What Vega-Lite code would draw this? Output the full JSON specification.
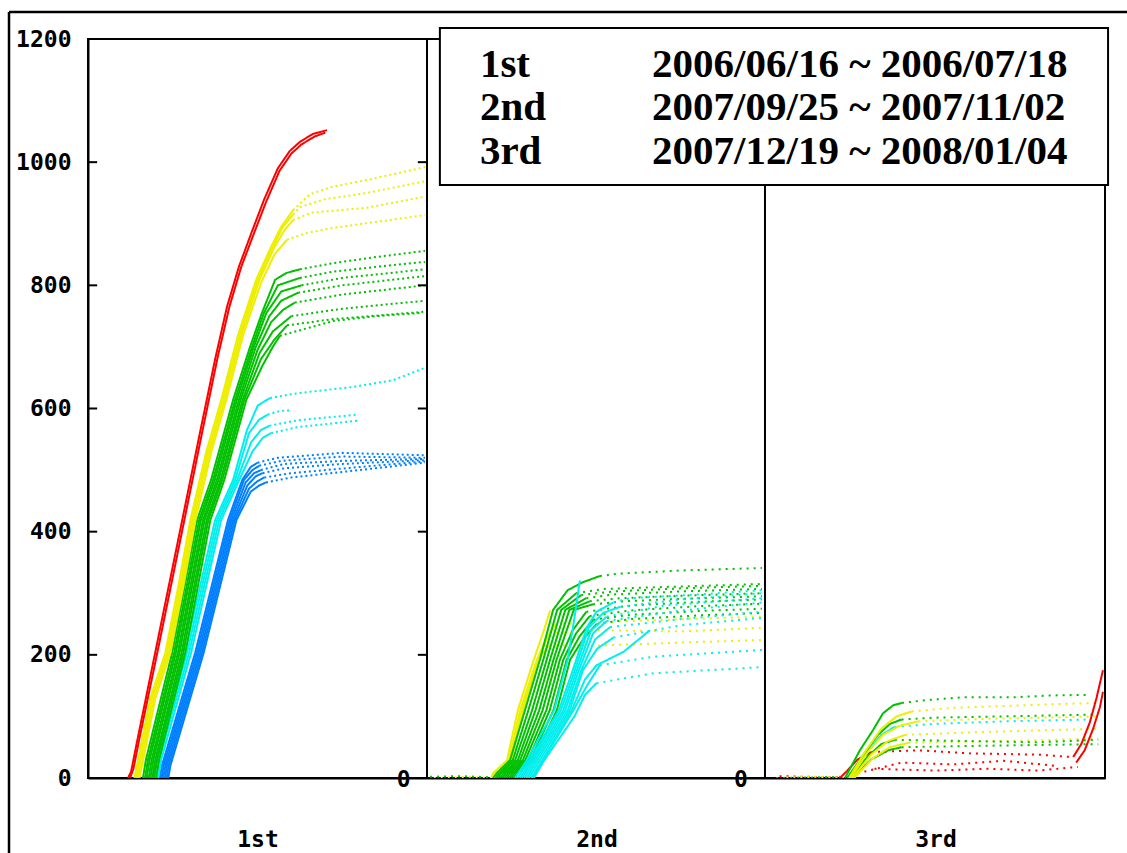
{
"$schema": "https://vega.github.io/schema/vega-lite/v6.json",
"width": 1017, "height": 739,
"autosize": {"type": "none"},
"padding": {"left": 88, "top": 39, "right": 22, "bottom": 75},
"background": "white",
"config": {"view": {"stroke": "#000", "strokeWidth": 2},
"axis": {"grid": false, "title": null, "labelFont": "DejaVu Sans Mono", "labelFontWeight": "bold", "labelFontSize": 23, "labelColor": "#000", "domainColor": "#000", "domainWidth": 2, "ticks": false},
"axisX": {"labelPadding": 50},
"axisY": {"labelPadding": 17}},
"datasets": {
"curves": [
{"s":"b1","c":"blue","p":"rise","x":21.2,"y":0},{"s":"b1","c":"blue","p":"rise","x":21.8,"y":20},{"s":"b1","c":"blue","p":"rise","x":31.6,"y":203},{"s":"b1","c":"blue","p":"rise","x":41.3,"y":419},{"s":"b1","c":"blue","p":"rise","x":45.5,"y":484},{"s":"b1","c":"blue","p":"rise","x":48.0,"y":505},{"s":"b1","c":"blue","p":"rise","x":50.0,"y":512},
{"s":"b1","c":"blue","p":"flat","x":50.0,"y":512},{"s":"b1","c":"blue","p":"flat","x":56,"y":520},{"s":"b1","c":"blue","p":"flat","x":75,"y":528},{"s":"b1","c":"blue","p":"flat","x":99.4,"y":524},
{"s":"b2","c":"blue","p":"rise","x":21.7,"y":0},{"s":"b2","c":"blue","p":"rise","x":22.3,"y":20},{"s":"b2","c":"blue","p":"rise","x":32.1,"y":203},{"s":"b2","c":"blue","p":"rise","x":41.8,"y":419},{"s":"b2","c":"blue","p":"rise","x":46.0,"y":484},{"s":"b2","c":"blue","p":"rise","x":48.5,"y":500},{"s":"b2","c":"blue","p":"rise","x":50.5,"y":507},
{"s":"b2","c":"blue","p":"flat","x":50.5,"y":507},{"s":"b2","c":"blue","p":"flat","x":57,"y":515},{"s":"b2","c":"blue","p":"flat","x":75,"y":522},{"s":"b2","c":"blue","p":"flat","x":99.4,"y":520},
{"s":"b3","c":"blue","p":"rise","x":22.2,"y":0},{"s":"b3","c":"blue","p":"rise","x":22.8,"y":20},{"s":"b3","c":"blue","p":"rise","x":32.6,"y":203},{"s":"b3","c":"blue","p":"rise","x":42.3,"y":419},{"s":"b3","c":"blue","p":"rise","x":46.5,"y":480},{"s":"b3","c":"blue","p":"rise","x":49.0,"y":495},{"s":"b3","c":"blue","p":"rise","x":51.0,"y":500},
{"s":"b3","c":"blue","p":"flat","x":51.0,"y":500},{"s":"b3","c":"blue","p":"flat","x":58,"y":510},{"s":"b3","c":"blue","p":"flat","x":75,"y":515},{"s":"b3","c":"blue","p":"flat","x":99.4,"y":518},
{"s":"b4","c":"blue","p":"rise","x":22.7,"y":0},{"s":"b4","c":"blue","p":"rise","x":23.3,"y":20},{"s":"b4","c":"blue","p":"rise","x":33.1,"y":203},{"s":"b4","c":"blue","p":"rise","x":42.8,"y":419},{"s":"b4","c":"blue","p":"rise","x":47.0,"y":475},{"s":"b4","c":"blue","p":"rise","x":49.5,"y":490},{"s":"b4","c":"blue","p":"rise","x":51.5,"y":495},
{"s":"b4","c":"blue","p":"flat","x":51.5,"y":495},{"s":"b4","c":"blue","p":"flat","x":58,"y":503},{"s":"b4","c":"blue","p":"flat","x":75,"y":510},{"s":"b4","c":"blue","p":"flat","x":99.4,"y":516},
{"s":"b5","c":"blue","p":"rise","x":23.2,"y":0},{"s":"b5","c":"blue","p":"rise","x":23.8,"y":20},{"s":"b5","c":"blue","p":"rise","x":33.6,"y":203},{"s":"b5","c":"blue","p":"rise","x":43.3,"y":419},{"s":"b5","c":"blue","p":"rise","x":47.5,"y":470},{"s":"b5","c":"blue","p":"rise","x":50.0,"y":482},{"s":"b5","c":"blue","p":"rise","x":52.0,"y":488},
{"s":"b5","c":"blue","p":"flat","x":52.0,"y":488},{"s":"b5","c":"blue","p":"flat","x":60,"y":495},{"s":"b5","c":"blue","p":"flat","x":80,"y":505},{"s":"b5","c":"blue","p":"flat","x":99.4,"y":514},
{"s":"b6","c":"blue","p":"rise","x":23.7,"y":0},{"s":"b6","c":"blue","p":"rise","x":24.3,"y":20},{"s":"b6","c":"blue","p":"rise","x":34.1,"y":203},{"s":"b6","c":"blue","p":"rise","x":43.8,"y":419},{"s":"b6","c":"blue","p":"rise","x":48.0,"y":465},{"s":"b6","c":"blue","p":"rise","x":50.5,"y":475},{"s":"b6","c":"blue","p":"rise","x":52.5,"y":480},
{"s":"b6","c":"blue","p":"flat","x":52.5,"y":480},{"s":"b6","c":"blue","p":"flat","x":60,"y":488},{"s":"b6","c":"blue","p":"flat","x":80,"y":500},{"s":"b6","c":"blue","p":"flat","x":99.4,"y":512},

{"s":"c1","c":"cyan","p":"rise","x":18.9,"y":0},{"s":"c1","c":"cyan","p":"rise","x":19.8,"y":30},{"s":"c1","c":"cyan","p":"rise","x":28.6,"y":203},{"s":"c1","c":"cyan","p":"rise","x":37.5,"y":419},{"s":"c1","c":"cyan","p":"rise","x":42.8,"y":484},{"s":"c1","c":"cyan","p":"rise","x":46.9,"y":565},{"s":"c1","c":"cyan","p":"rise","x":50.1,"y":605},{"s":"c1","c":"cyan","p":"rise","x":53.7,"y":617},
{"s":"c1","c":"cyan","p":"flat","x":53.7,"y":617},{"s":"c1","c":"cyan","p":"flat","x":62,"y":625},{"s":"c1","c":"cyan","p":"flat","x":78.2,"y":635},{"s":"c1","c":"cyan","p":"flat","x":90,"y":646},{"s":"c1","c":"cyan","p":"flat","x":99.4,"y":666},
{"s":"c2","c":"cyan","p":"rise","x":19.5,"y":0},{"s":"c2","c":"cyan","p":"rise","x":20.4,"y":30},{"s":"c2","c":"cyan","p":"rise","x":29.2,"y":203},{"s":"c2","c":"cyan","p":"rise","x":38.1,"y":419},{"s":"c2","c":"cyan","p":"rise","x":43.4,"y":484},{"s":"c2","c":"cyan","p":"rise","x":47.5,"y":560},{"s":"c2","c":"cyan","p":"rise","x":50.5,"y":582},{"s":"c2","c":"cyan","p":"rise","x":53.0,"y":590},
{"s":"c2","c":"cyan","p":"flat","x":53.0,"y":590},{"s":"c2","c":"cyan","p":"flat","x":56.5,"y":596},{"s":"c2","c":"cyan","p":"flat","x":60.2,"y":597},
{"s":"c3","c":"cyan","p":"rise","x":20.1,"y":0},{"s":"c3","c":"cyan","p":"rise","x":21.0,"y":30},{"s":"c3","c":"cyan","p":"rise","x":29.8,"y":203},{"s":"c3","c":"cyan","p":"rise","x":38.7,"y":419},{"s":"c3","c":"cyan","p":"rise","x":44.0,"y":484},{"s":"c3","c":"cyan","p":"rise","x":48.1,"y":545},{"s":"c3","c":"cyan","p":"rise","x":51.0,"y":565},{"s":"c3","c":"cyan","p":"rise","x":53.5,"y":572},
{"s":"c3","c":"cyan","p":"flat","x":53.5,"y":572},{"s":"c3","c":"cyan","p":"flat","x":62,"y":581},{"s":"c3","c":"cyan","p":"flat","x":79.4,"y":590},
{"s":"c4","c":"cyan","p":"rise","x":20.7,"y":0},{"s":"c4","c":"cyan","p":"rise","x":21.6,"y":30},{"s":"c4","c":"cyan","p":"rise","x":30.4,"y":203},{"s":"c4","c":"cyan","p":"rise","x":39.3,"y":419},{"s":"c4","c":"cyan","p":"rise","x":44.6,"y":484},{"s":"c4","c":"cyan","p":"rise","x":48.5,"y":530},{"s":"c4","c":"cyan","p":"rise","x":51.5,"y":552},{"s":"c4","c":"cyan","p":"rise","x":54.0,"y":560},
{"s":"c4","c":"cyan","p":"flat","x":54.0,"y":560},{"s":"c4","c":"cyan","p":"flat","x":62,"y":570},{"s":"c4","c":"cyan","p":"flat","x":79.4,"y":580},

{"s":"g1","c":"green","p":"rise","x":16.2,"y":0},{"s":"g1","c":"green","p":"rise","x":17.1,"y":30},{"s":"g1","c":"green","p":"rise","x":24.8,"y":203},{"s":"g1","c":"green","p":"rise","x":32.2,"y":419},{"s":"g1","c":"green","p":"rise","x":36.3,"y":484},{"s":"g1","c":"green","p":"rise","x":42.8,"y":614},{"s":"g1","c":"green","p":"rise","x":47.8,"y":700},{"s":"g1","c":"green","p":"rise","x":51.3,"y":755},{"s":"g1","c":"green","p":"rise","x":55.2,"y":809},{"s":"g1","c":"green","p":"rise","x":58.5,"y":820},{"s":"g1","c":"green","p":"rise","x":62.5,"y":826},
{"s":"g1","c":"green","p":"flat","x":62.5,"y":826},{"s":"g1","c":"green","p":"flat","x":72.3,"y":836},{"s":"g1","c":"green","p":"flat","x":85,"y":846},{"s":"g1","c":"green","p":"flat","x":99.4,"y":856},
{"s":"g2","c":"green","p":"rise","x":16.8,"y":0},{"s":"g2","c":"green","p":"rise","x":17.7,"y":30},{"s":"g2","c":"green","p":"rise","x":25.4,"y":203},{"s":"g2","c":"green","p":"rise","x":32.8,"y":419},{"s":"g2","c":"green","p":"rise","x":36.9,"y":484},{"s":"g2","c":"green","p":"rise","x":43.4,"y":614},{"s":"g2","c":"green","p":"rise","x":48.4,"y":700},{"s":"g2","c":"green","p":"rise","x":51.9,"y":755},{"s":"g2","c":"green","p":"rise","x":56.0,"y":800},{"s":"g2","c":"green","p":"rise","x":62.5,"y":812},
{"s":"g2","c":"green","p":"flat","x":62.5,"y":812},{"s":"g2","c":"green","p":"flat","x":72,"y":822},{"s":"g2","c":"green","p":"flat","x":85,"y":830},{"s":"g2","c":"green","p":"flat","x":99.4,"y":838},
{"s":"g3","c":"green","p":"rise","x":17.3,"y":0},{"s":"g3","c":"green","p":"rise","x":18.2,"y":30},{"s":"g3","c":"green","p":"rise","x":25.9,"y":203},{"s":"g3","c":"green","p":"rise","x":33.3,"y":419},{"s":"g3","c":"green","p":"rise","x":37.4,"y":484},{"s":"g3","c":"green","p":"rise","x":43.9,"y":614},{"s":"g3","c":"green","p":"rise","x":48.9,"y":700},{"s":"g3","c":"green","p":"rise","x":52.6,"y":755},{"s":"g3","c":"green","p":"rise","x":57.0,"y":790},{"s":"g3","c":"green","p":"rise","x":63.0,"y":800},
{"s":"g3","c":"green","p":"flat","x":63.0,"y":800},{"s":"g3","c":"green","p":"flat","x":75,"y":812},{"s":"g3","c":"green","p":"flat","x":99.4,"y":826},
{"s":"g4","c":"green","p":"rise","x":17.9,"y":0},{"s":"g4","c":"green","p":"rise","x":18.8,"y":30},{"s":"g4","c":"green","p":"rise","x":26.5,"y":203},{"s":"g4","c":"green","p":"rise","x":33.9,"y":419},{"s":"g4","c":"green","p":"rise","x":38.0,"y":484},{"s":"g4","c":"green","p":"rise","x":44.5,"y":614},{"s":"g4","c":"green","p":"rise","x":49.5,"y":700},{"s":"g4","c":"green","p":"rise","x":53.5,"y":750},{"s":"g4","c":"green","p":"rise","x":57.0,"y":775},{"s":"g4","c":"green","p":"rise","x":62.0,"y":788},
{"s":"g4","c":"green","p":"flat","x":62.0,"y":788},{"s":"g4","c":"green","p":"flat","x":75,"y":800},{"s":"g4","c":"green","p":"flat","x":99.4,"y":815},
{"s":"g5","c":"green","p":"rise","x":18.4,"y":0},{"s":"g5","c":"green","p":"rise","x":19.3,"y":30},{"s":"g5","c":"green","p":"rise","x":27.0,"y":203},{"s":"g5","c":"green","p":"rise","x":34.4,"y":419},{"s":"g5","c":"green","p":"rise","x":38.5,"y":484},{"s":"g5","c":"green","p":"rise","x":45.0,"y":614},{"s":"g5","c":"green","p":"rise","x":50.0,"y":695},{"s":"g5","c":"green","p":"rise","x":54.0,"y":740},{"s":"g5","c":"green","p":"rise","x":57.5,"y":760},{"s":"g5","c":"green","p":"rise","x":61.0,"y":772},
{"s":"g5","c":"green","p":"flat","x":61.0,"y":772},{"s":"g5","c":"green","p":"flat","x":75,"y":785},{"s":"g5","c":"green","p":"flat","x":99.4,"y":800},
{"s":"g6","c":"green","p":"rise","x":19.0,"y":0},{"s":"g6","c":"green","p":"rise","x":19.9,"y":30},{"s":"g6","c":"green","p":"rise","x":27.6,"y":203},{"s":"g6","c":"green","p":"rise","x":35.0,"y":419},{"s":"g6","c":"green","p":"rise","x":39.1,"y":484},{"s":"g6","c":"green","p":"rise","x":45.6,"y":614},{"s":"g6","c":"green","p":"rise","x":50.6,"y":690},{"s":"g6","c":"green","p":"rise","x":54.5,"y":725},{"s":"g6","c":"green","p":"rise","x":60.0,"y":750},
{"s":"g6","c":"green","p":"flat","x":60.0,"y":750},{"s":"g6","c":"green","p":"flat","x":75,"y":762},{"s":"g6","c":"green","p":"flat","x":99.4,"y":775},
{"s":"g7","c":"green","p":"rise","x":19.5,"y":0},{"s":"g7","c":"green","p":"rise","x":20.4,"y":30},{"s":"g7","c":"green","p":"rise","x":28.1,"y":203},{"s":"g7","c":"green","p":"rise","x":35.5,"y":419},{"s":"g7","c":"green","p":"rise","x":39.6,"y":484},{"s":"g7","c":"green","p":"rise","x":46.1,"y":614},{"s":"g7","c":"green","p":"rise","x":51.0,"y":680},{"s":"g7","c":"green","p":"rise","x":55.0,"y":712},{"s":"g7","c":"green","p":"rise","x":58.7,"y":735},
{"s":"g7","c":"green","p":"flat","x":58.7,"y":735},{"s":"g7","c":"green","p":"flat","x":72,"y":745},{"s":"g7","c":"green","p":"flat","x":99.0,"y":757},
{"s":"g8","c":"green","p":"rise","x":20.1,"y":0},{"s":"g8","c":"green","p":"rise","x":21.0,"y":30},{"s":"g8","c":"green","p":"rise","x":28.7,"y":203},{"s":"g8","c":"green","p":"rise","x":36.1,"y":419},{"s":"g8","c":"green","p":"rise","x":40.2,"y":484},{"s":"g8","c":"green","p":"rise","x":46.7,"y":614},{"s":"g8","c":"green","p":"rise","x":51.5,"y":670},{"s":"g8","c":"green","p":"rise","x":54.5,"y":700},{"s":"g8","c":"green","p":"rise","x":56.6,"y":718},
{"s":"g8","c":"green","p":"flat","x":56.6,"y":718},{"s":"g8","c":"green","p":"flat","x":72.3,"y":742},{"s":"g8","c":"green","p":"flat","x":85,"y":750},{"s":"g8","c":"green","p":"flat","x":97.9,"y":755},

{"s":"y1","c":"yellow","p":"rise","x":13.7,"y":0},{"s":"y1","c":"yellow","p":"rise","x":14.8,"y":30},{"s":"y1","c":"yellow","p":"rise","x":18.4,"y":130},{"s":"y1","c":"yellow","p":"rise","x":22.8,"y":203},{"s":"y1","c":"yellow","p":"rise","x":26.6,"y":310},{"s":"y1","c":"yellow","p":"rise","x":30.2,"y":419},{"s":"y1","c":"yellow","p":"rise","x":34.9,"y":530},{"s":"y1","c":"yellow","p":"rise","x":39.3,"y":614},{"s":"y1","c":"yellow","p":"rise","x":44.3,"y":720},{"s":"y1","c":"yellow","p":"rise","x":49.6,"y":809},{"s":"y1","c":"yellow","p":"rise","x":53.8,"y":860},{"s":"y1","c":"yellow","p":"rise","x":57.0,"y":895},{"s":"y1","c":"yellow","p":"rise","x":60.5,"y":922},
{"s":"y1","c":"yellow","p":"flat","x":60.5,"y":922},{"s":"y1","c":"yellow","p":"flat","x":65.5,"y":948},{"s":"y1","c":"yellow","p":"flat","x":72,"y":960},{"s":"y1","c":"yellow","p":"flat","x":82.3,"y":971},{"s":"y1","c":"yellow","p":"flat","x":99.4,"y":992},
{"s":"y2","c":"yellow","p":"rise","x":14.2,"y":0},{"s":"y2","c":"yellow","p":"rise","x":15.3,"y":30},{"s":"y2","c":"yellow","p":"rise","x":18.9,"y":130},{"s":"y2","c":"yellow","p":"rise","x":23.3,"y":203},{"s":"y2","c":"yellow","p":"rise","x":27.1,"y":310},{"s":"y2","c":"yellow","p":"rise","x":30.7,"y":419},{"s":"y2","c":"yellow","p":"rise","x":35.4,"y":530},{"s":"y2","c":"yellow","p":"rise","x":39.8,"y":614},{"s":"y2","c":"yellow","p":"rise","x":44.8,"y":720},{"s":"y2","c":"yellow","p":"rise","x":50.1,"y":809},{"s":"y2","c":"yellow","p":"rise","x":54.3,"y":860},{"s":"y2","c":"yellow","p":"rise","x":57.5,"y":895},{"s":"y2","c":"yellow","p":"rise","x":60.5,"y":915},
{"s":"y2","c":"yellow","p":"flat","x":60.5,"y":915},{"s":"y2","c":"yellow","p":"flat","x":62.5,"y":927},{"s":"y2","c":"yellow","p":"flat","x":70,"y":940},{"s":"y2","c":"yellow","p":"flat","x":82.3,"y":950},{"s":"y2","c":"yellow","p":"flat","x":99.4,"y":969},
{"s":"y3","c":"yellow","p":"rise","x":14.7,"y":0},{"s":"y3","c":"yellow","p":"rise","x":15.8,"y":30},{"s":"y3","c":"yellow","p":"rise","x":19.4,"y":130},{"s":"y3","c":"yellow","p":"rise","x":23.8,"y":203},{"s":"y3","c":"yellow","p":"rise","x":27.6,"y":310},{"s":"y3","c":"yellow","p":"rise","x":31.2,"y":419},{"s":"y3","c":"yellow","p":"rise","x":35.9,"y":530},{"s":"y3","c":"yellow","p":"rise","x":40.3,"y":614},{"s":"y3","c":"yellow","p":"rise","x":45.3,"y":720},{"s":"y3","c":"yellow","p":"rise","x":50.6,"y":809},{"s":"y3","c":"yellow","p":"rise","x":54.8,"y":860},{"s":"y3","c":"yellow","p":"rise","x":58.0,"y":890},{"s":"y3","c":"yellow","p":"rise","x":60.5,"y":906},
{"s":"y3","c":"yellow","p":"flat","x":60.5,"y":906},{"s":"y3","c":"yellow","p":"flat","x":66,"y":918},{"s":"y3","c":"yellow","p":"flat","x":82.3,"y":926},{"s":"y3","c":"yellow","p":"flat","x":99.4,"y":944},
{"s":"y4","c":"yellow","p":"rise","x":15.2,"y":0},{"s":"y4","c":"yellow","p":"rise","x":16.3,"y":30},{"s":"y4","c":"yellow","p":"rise","x":19.9,"y":130},{"s":"y4","c":"yellow","p":"rise","x":24.3,"y":203},{"s":"y4","c":"yellow","p":"rise","x":28.1,"y":310},{"s":"y4","c":"yellow","p":"rise","x":31.7,"y":419},{"s":"y4","c":"yellow","p":"rise","x":36.4,"y":530},{"s":"y4","c":"yellow","p":"rise","x":40.8,"y":614},{"s":"y4","c":"yellow","p":"rise","x":45.8,"y":720},{"s":"y4","c":"yellow","p":"rise","x":51.1,"y":805},{"s":"y4","c":"yellow","p":"rise","x":55.0,"y":850},{"s":"y4","c":"yellow","p":"rise","x":58.7,"y":874},
{"s":"y4","c":"yellow","p":"flat","x":58.7,"y":874},{"s":"y4","c":"yellow","p":"flat","x":64.6,"y":885},{"s":"y4","c":"yellow","p":"flat","x":72,"y":893},{"s":"y4","c":"yellow","p":"flat","x":82.3,"y":901},{"s":"y4","c":"yellow","p":"flat","x":99.4,"y":914},

{"s":"r1","c":"red","p":"rise","x":11.8,"y":0},{"s":"r1","c":"red","p":"rise","x":12.7,"y":10},{"s":"r1","c":"red","p":"rise","x":14.5,"y":60},{"s":"r1","c":"red","p":"rise","x":19.8,"y":203},{"s":"r1","c":"red","p":"rise","x":27.1,"y":400},{"s":"r1","c":"red","p":"rise","x":33.0,"y":560},{"s":"r1","c":"red","p":"rise","x":37.5,"y":680},{"s":"r1","c":"red","p":"rise","x":41.0,"y":765},{"s":"r1","c":"red","p":"rise","x":44.5,"y":830},{"s":"r1","c":"red","p":"rise","x":48.4,"y":888},{"s":"r1","c":"red","p":"rise","x":52.0,"y":940},{"s":"r1","c":"red","p":"rise","x":56.0,"y":990},{"s":"r1","c":"red","p":"rise","x":59.5,"y":1018},{"s":"r1","c":"red","p":"rise","x":62.5,"y":1033},{"s":"r1","c":"red","p":"rise","x":66.4,"y":1046},{"s":"r1","c":"red","p":"rise","x":70.5,"y":1052},
{"s":"r2","c":"red","p":"rise","x":12.4,"y":0},{"s":"r2","c":"red","p":"rise","x":13.4,"y":15},{"s":"r2","c":"red","p":"rise","x":15.2,"y":65},{"s":"r2","c":"red","p":"rise","x":20.5,"y":205},{"s":"r2","c":"red","p":"rise","x":27.8,"y":402},{"s":"r2","c":"red","p":"rise","x":33.7,"y":562},{"s":"r2","c":"red","p":"rise","x":38.2,"y":682},{"s":"r2","c":"red","p":"rise","x":41.7,"y":765},{"s":"r2","c":"red","p":"rise","x":45.2,"y":830},{"s":"r2","c":"red","p":"rise","x":49.0,"y":885},{"s":"r2","c":"red","p":"rise","x":52.5,"y":935},{"s":"r2","c":"red","p":"rise","x":56.5,"y":986},{"s":"r2","c":"red","p":"rise","x":60.0,"y":1014},{"s":"r2","c":"red","p":"rise","x":63.0,"y":1029},{"s":"r2","c":"red","p":"rise","x":67.0,"y":1042},{"s":"r2","c":"red","p":"rise","x":70.0,"y":1048},

{"s":"z2g","c":"green","p":"sparse","x":100.9,"y":2},{"s":"z2g","c":"green","p":"sparse","x":110,"y":3},{"s":"z2g","c":"green","p":"sparse","x":119.5,"y":1},
{"s":"z2y","c":"yellow","p":"sparse","x":102,"y":0},{"s":"z2y","c":"yellow","p":"sparse","x":112,"y":2},{"s":"z2y","c":"yellow","p":"sparse","x":120,"y":0},

{"s":"ya0","c":"yellow","p":"rise","x":119.0,"y":0},{"s":"ya0","c":"yellow","p":"rise","x":119.5,"y":8},{"s":"ya0","c":"yellow","p":"rise","x":123.6,"y":29},{"s":"ya0","c":"yellow","p":"rise","x":126.8,"y":110},{"s":"ya0","c":"yellow","p":"rise","x":131.5,"y":192},{"s":"ya0","c":"yellow","p":"rise","x":134.5,"y":240},{"s":"ya0","c":"yellow","p":"rise","x":136.3,"y":272},
{"s":"ya1","c":"yellow","p":"rise","x":119.6,"y":0},{"s":"ya1","c":"yellow","p":"rise","x":120.1,"y":8},{"s":"ya1","c":"yellow","p":"rise","x":124.1,"y":29},{"s":"ya1","c":"yellow","p":"rise","x":127.5,"y":110},{"s":"ya1","c":"yellow","p":"rise","x":132.4,"y":192},{"s":"ya1","c":"yellow","p":"rise","x":135,"y":225},{"s":"ya1","c":"yellow","p":"rise","x":138,"y":250},
{"s":"ya1","c":"yellow","p":"sparse","x":138,"y":250},{"s":"ya1","c":"yellow","p":"sparse","x":160,"y":255},{"s":"ya1","c":"yellow","p":"sparse","x":198.8,"y":262},
{"s":"ya2","c":"yellow","p":"rise","x":120.0,"y":0},{"s":"ya2","c":"yellow","p":"rise","x":120.6,"y":8},{"s":"ya2","c":"yellow","p":"rise","x":124.4,"y":29},{"s":"ya2","c":"yellow","p":"rise","x":128,"y":110},{"s":"ya2","c":"yellow","p":"rise","x":132.8,"y":192},{"s":"ya2","c":"yellow","p":"rise","x":134.5,"y":215},{"s":"ya2","c":"yellow","p":"rise","x":136,"y":235},
{"s":"ya2","c":"yellow","p":"sparse","x":136,"y":235},{"s":"ya2","c":"yellow","p":"sparse","x":150,"y":240},{"s":"ya2","c":"yellow","p":"sparse","x":175,"y":238},{"s":"ya2","c":"yellow","p":"sparse","x":198.8,"y":244},
{"s":"ya3","c":"yellow","p":"rise","x":120.3,"y":0},{"s":"ya3","c":"yellow","p":"rise","x":121,"y":8},{"s":"ya3","c":"yellow","p":"rise","x":124.8,"y":29},{"s":"ya3","c":"yellow","p":"rise","x":128.4,"y":110},{"s":"ya3","c":"yellow","p":"rise","x":133,"y":192},{"s":"ya3","c":"yellow","p":"rise","x":134.5,"y":205},{"s":"ya3","c":"yellow","p":"rise","x":136,"y":215},
{"s":"ya3","c":"yellow","p":"sparse","x":136,"y":215},{"s":"ya3","c":"yellow","p":"sparse","x":150,"y":215},{"s":"ya3","c":"yellow","p":"sparse","x":175,"y":220},{"s":"ya3","c":"yellow","p":"sparse","x":198.8,"y":224},

{"s":"gb0","c":"green","p":"rise","x":119.5,"y":0},{"s":"gb0","c":"green","p":"rise","x":120.6,"y":8},{"s":"gb0","c":"green","p":"rise","x":124.5,"y":29},{"s":"gb0","c":"green","p":"rise","x":128.9,"y":110},{"s":"gb0","c":"green","p":"rise","x":133.3,"y":192},{"s":"gb0","c":"green","p":"rise","x":137.2,"y":273},{"s":"gb0","c":"green","p":"rise","x":141.5,"y":305},{"s":"gb0","c":"green","p":"rise","x":146,"y":318},{"s":"gb0","c":"green","p":"rise","x":151,"y":328},
{"s":"gb0","c":"green","p":"sparse","x":151,"y":328},{"s":"gb0","c":"green","p":"sparse","x":157,"y":332},{"s":"gb0","c":"green","p":"sparse","x":175,"y":337},{"s":"gb0","c":"green","p":"sparse","x":198.8,"y":341},
{"s":"gb1","c":"green","p":"rise","x":120.2,"y":0},{"s":"gb1","c":"green","p":"rise","x":121.3,"y":8},{"s":"gb1","c":"green","p":"rise","x":125.3,"y":29},{"s":"gb1","c":"green","p":"rise","x":129.9,"y":110},{"s":"gb1","c":"green","p":"rise","x":134.3,"y":192},{"s":"gb1","c":"green","p":"rise","x":138.4,"y":273},{"s":"gb1","c":"green","p":"rise","x":144,"y":300},
{"s":"gb1","c":"green","p":"sparse","x":144,"y":300},{"s":"gb1","c":"green","p":"sparse","x":152,"y":307},{"s":"gb1","c":"green","p":"sparse","x":175,"y":311},{"s":"gb1","c":"green","p":"sparse","x":198.8,"y":315},
{"s":"gb2","c":"green","p":"rise","x":120.8,"y":0},{"s":"gb2","c":"green","p":"rise","x":121.9,"y":8},{"s":"gb2","c":"green","p":"rise","x":126.0,"y":29},{"s":"gb2","c":"green","p":"rise","x":131.0,"y":110},{"s":"gb2","c":"green","p":"rise","x":135.3,"y":192},{"s":"gb2","c":"green","p":"rise","x":139.6,"y":273},{"s":"gb2","c":"green","p":"rise","x":145.5,"y":297},
{"s":"gb2","c":"green","p":"sparse","x":145.5,"y":297},{"s":"gb2","c":"green","p":"sparse","x":155,"y":303},{"s":"gb2","c":"green","p":"sparse","x":175,"y":308},{"s":"gb2","c":"green","p":"sparse","x":198.8,"y":312},
{"s":"gb3","c":"green","p":"rise","x":121.5,"y":0},{"s":"gb3","c":"green","p":"rise","x":122.6,"y":8},{"s":"gb3","c":"green","p":"rise","x":126.8,"y":29},{"s":"gb3","c":"green","p":"rise","x":132.0,"y":110},{"s":"gb3","c":"green","p":"rise","x":136.3,"y":192},{"s":"gb3","c":"green","p":"rise","x":140.8,"y":273},{"s":"gb3","c":"green","p":"rise","x":147,"y":292},
{"s":"gb3","c":"green","p":"sparse","x":147,"y":292},{"s":"gb3","c":"green","p":"sparse","x":155,"y":298},{"s":"gb3","c":"green","p":"sparse","x":175,"y":303},{"s":"gb3","c":"green","p":"sparse","x":198.8,"y":307},
{"s":"gb4","c":"green","p":"rise","x":122.2,"y":0},{"s":"gb4","c":"green","p":"rise","x":123.2,"y":8},{"s":"gb4","c":"green","p":"rise","x":127.5,"y":29},{"s":"gb4","c":"green","p":"rise","x":133.1,"y":110},{"s":"gb4","c":"green","p":"rise","x":137.3,"y":192},{"s":"gb4","c":"green","p":"rise","x":142.0,"y":273},{"s":"gb4","c":"green","p":"rise","x":148,"y":287},
{"s":"gb4","c":"green","p":"sparse","x":148,"y":287},{"s":"gb4","c":"green","p":"sparse","x":157,"y":292},{"s":"gb4","c":"green","p":"sparse","x":175,"y":296},{"s":"gb4","c":"green","p":"sparse","x":198.8,"y":300},
{"s":"gb5","c":"green","p":"rise","x":122.8,"y":0},{"s":"gb5","c":"green","p":"rise","x":123.9,"y":8},{"s":"gb5","c":"green","p":"rise","x":128.3,"y":29},{"s":"gb5","c":"green","p":"rise","x":134.1,"y":110},{"s":"gb5","c":"green","p":"rise","x":138.2,"y":192},{"s":"gb5","c":"green","p":"rise","x":143.3,"y":273},{"s":"gb5","c":"green","p":"rise","x":149,"y":282},
{"s":"gb5","c":"green","p":"sparse","x":149,"y":282},{"s":"gb5","c":"green","p":"sparse","x":158,"y":287},{"s":"gb5","c":"green","p":"sparse","x":175,"y":291},{"s":"gb5","c":"green","p":"sparse","x":198.8,"y":295},
{"s":"gb6","c":"green","p":"rise","x":123.5,"y":0},{"s":"gb6","c":"green","p":"rise","x":124.5,"y":8},{"s":"gb6","c":"green","p":"rise","x":129.0,"y":29},{"s":"gb6","c":"green","p":"rise","x":135.2,"y":110},{"s":"gb6","c":"green","p":"rise","x":139.2,"y":192},{"s":"gb6","c":"green","p":"rise","x":143,"y":240},{"s":"gb6","c":"green","p":"rise","x":147,"y":270},
{"s":"gb6","c":"green","p":"sparse","x":147,"y":270},{"s":"gb6","c":"green","p":"sparse","x":160,"y":280},{"s":"gb6","c":"green","p":"sparse","x":180,"y":286},{"s":"gb6","c":"green","p":"sparse","x":198.8,"y":290},
{"s":"gb7","c":"green","p":"rise","x":124.2,"y":0},{"s":"gb7","c":"green","p":"rise","x":125.2,"y":8},{"s":"gb7","c":"green","p":"rise","x":129.8,"y":29},{"s":"gb7","c":"green","p":"rise","x":136.2,"y":110},{"s":"gb7","c":"green","p":"rise","x":140.2,"y":192},{"s":"gb7","c":"green","p":"rise","x":144,"y":235},{"s":"gb7","c":"green","p":"rise","x":148,"y":263},
{"s":"gb7","c":"green","p":"sparse","x":148,"y":263},{"s":"gb7","c":"green","p":"sparse","x":160,"y":272},{"s":"gb7","c":"green","p":"sparse","x":180,"y":279},{"s":"gb7","c":"green","p":"sparse","x":198.8,"y":283},
{"s":"gb8","c":"green","p":"rise","x":124.8,"y":0},{"s":"gb8","c":"green","p":"rise","x":125.8,"y":8},{"s":"gb8","c":"green","p":"rise","x":130.5,"y":29},{"s":"gb8","c":"green","p":"rise","x":137.3,"y":110},{"s":"gb8","c":"green","p":"rise","x":141.2,"y":192},{"s":"gb8","c":"green","p":"rise","x":145,"y":230},{"s":"gb8","c":"green","p":"rise","x":149,"y":257},
{"s":"gb8","c":"green","p":"sparse","x":149,"y":257},{"s":"gb8","c":"green","p":"sparse","x":160,"y":265},{"s":"gb8","c":"green","p":"sparse","x":180,"y":271},{"s":"gb8","c":"green","p":"sparse","x":198.8,"y":275},
{"s":"gb9","c":"green","p":"rise","x":125.5,"y":0},{"s":"gb9","c":"green","p":"rise","x":126.5,"y":8},{"s":"gb9","c":"green","p":"rise","x":131.3,"y":29},{"s":"gb9","c":"green","p":"rise","x":138.3,"y":110},{"s":"gb9","c":"green","p":"rise","x":142.2,"y":192},{"s":"gb9","c":"green","p":"rise","x":146,"y":225},{"s":"gb9","c":"green","p":"rise","x":150,"y":250},
{"s":"gb9","c":"green","p":"sparse","x":150,"y":250},{"s":"gb9","c":"green","p":"sparse","x":160,"y":258},{"s":"gb9","c":"green","p":"sparse","x":180,"y":264},{"s":"gb9","c":"green","p":"sparse","x":198.8,"y":268},

{"s":"cb0","c":"cyan","p":"rise","x":126,"y":0},{"s":"cb0","c":"cyan","p":"rise","x":129.5,"y":29},{"s":"cb0","c":"cyan","p":"rise","x":137.5,"y":110},{"s":"cb0","c":"cyan","p":"rise","x":141.5,"y":192},{"s":"cb0","c":"cyan","p":"rise","x":143.5,"y":260},{"s":"cb0","c":"cyan","p":"rise","x":145.1,"y":321},
{"s":"cb1","c":"cyan","p":"rise","x":126.7,"y":0},{"s":"cb1","c":"cyan","p":"rise","x":130.2,"y":29},{"s":"cb1","c":"cyan","p":"rise","x":138.9,"y":110},{"s":"cb1","c":"cyan","p":"rise","x":143,"y":175},{"s":"cb1","c":"cyan","p":"rise","x":147.2,"y":245},{"s":"cb1","c":"cyan","p":"rise","x":150,"y":270},{"s":"cb1","c":"cyan","p":"rise","x":155,"y":285},
{"s":"cb1","c":"cyan","p":"sparse","x":155,"y":285},{"s":"cb1","c":"cyan","p":"sparse","x":160,"y":292},{"s":"cb1","c":"cyan","p":"sparse","x":180,"y":298},{"s":"cb1","c":"cyan","p":"sparse","x":198.8,"y":305},
{"s":"cb2","c":"cyan","p":"rise","x":127.4,"y":0},{"s":"cb2","c":"cyan","p":"rise","x":130.8,"y":29},{"s":"cb2","c":"cyan","p":"rise","x":139.5,"y":110},{"s":"cb2","c":"cyan","p":"rise","x":143.6,"y":175},{"s":"cb2","c":"cyan","p":"rise","x":147.8,"y":245},{"s":"cb2","c":"cyan","p":"rise","x":152,"y":268},{"s":"cb2","c":"cyan","p":"rise","x":157,"y":278},
{"s":"cb2","c":"cyan","p":"sparse","x":157,"y":278},{"s":"cb2","c":"cyan","p":"sparse","x":175,"y":290},{"s":"cb2","c":"cyan","p":"sparse","x":198.8,"y":300},
{"s":"cb3","c":"cyan","p":"rise","x":128,"y":0},{"s":"cb3","c":"cyan","p":"rise","x":131.4,"y":29},{"s":"cb3","c":"cyan","p":"rise","x":140.2,"y":110},{"s":"cb3","c":"cyan","p":"rise","x":144.2,"y":175},{"s":"cb3","c":"cyan","p":"rise","x":148.4,"y":240},{"s":"cb3","c":"cyan","p":"rise","x":153,"y":262},
{"s":"cb3","c":"cyan","p":"sparse","x":153,"y":262},{"s":"cb3","c":"cyan","p":"sparse","x":170,"y":280},{"s":"cb3","c":"cyan","p":"sparse","x":198.8,"y":292},
{"s":"cb4","c":"cyan","p":"rise","x":128.7,"y":0},{"s":"cb4","c":"cyan","p":"rise","x":132,"y":29},{"s":"cb4","c":"cyan","p":"rise","x":140.8,"y":110},{"s":"cb4","c":"cyan","p":"rise","x":144.8,"y":175},{"s":"cb4","c":"cyan","p":"rise","x":149,"y":235},{"s":"cb4","c":"cyan","p":"rise","x":153,"y":255},
{"s":"cb4","c":"cyan","p":"sparse","x":153,"y":255},{"s":"cb4","c":"cyan","p":"sparse","x":175,"y":272},{"s":"cb4","c":"cyan","p":"sparse","x":198.8,"y":285},
{"s":"cb5","c":"cyan","p":"rise","x":129.4,"y":0},{"s":"cb5","c":"cyan","p":"rise","x":132.6,"y":29},{"s":"cb5","c":"cyan","p":"rise","x":141.5,"y":110},{"s":"cb5","c":"cyan","p":"rise","x":145.5,"y":175},{"s":"cb5","c":"cyan","p":"rise","x":149.6,"y":225},{"s":"cb5","c":"cyan","p":"rise","x":154,"y":245},
{"s":"cb5","c":"cyan","p":"sparse","x":154,"y":245},{"s":"cb5","c":"cyan","p":"sparse","x":175,"y":258},{"s":"cb5","c":"cyan","p":"sparse","x":198.8,"y":270},
{"s":"cb6","c":"cyan","p":"rise","x":130,"y":0},{"s":"cb6","c":"cyan","p":"rise","x":133.3,"y":29},{"s":"cb6","c":"cyan","p":"rise","x":142.1,"y":110},{"s":"cb6","c":"cyan","p":"rise","x":146,"y":175},{"s":"cb6","c":"cyan","p":"rise","x":150.2,"y":210},{"s":"cb6","c":"cyan","p":"rise","x":155,"y":228},
{"s":"cb6","c":"cyan","p":"sparse","x":155,"y":228},{"s":"cb6","c":"cyan","p":"sparse","x":175,"y":248},{"s":"cb6","c":"cyan","p":"sparse","x":198.8,"y":260},
{"s":"cb7","c":"cyan","p":"rise","x":130.7,"y":0},{"s":"cb7","c":"cyan","p":"rise","x":134,"y":29},{"s":"cb7","c":"cyan","p":"rise","x":142.7,"y":110},{"s":"cb7","c":"cyan","p":"rise","x":146.6,"y":160},{"s":"cb7","c":"cyan","p":"rise","x":150,"y":183},{"s":"cb7","c":"cyan","p":"rise","x":158,"y":205},{"s":"cb7","c":"cyan","p":"rise","x":165.8,"y":240},
{"s":"cb8","c":"cyan","p":"rise","x":131,"y":0},{"s":"cb8","c":"cyan","p":"rise","x":134.2,"y":29},{"s":"cb8","c":"cyan","p":"rise","x":143.2,"y":110},{"s":"cb8","c":"cyan","p":"rise","x":147.2,"y":150},{"s":"cb8","c":"cyan","p":"rise","x":151,"y":183},
{"s":"cb8","c":"cyan","p":"sparse","x":151,"y":183},{"s":"cb8","c":"cyan","p":"sparse","x":166.7,"y":197},{"s":"cb8","c":"cyan","p":"sparse","x":198.8,"y":208},
{"s":"cb9","c":"cyan","p":"rise","x":131.5,"y":0},{"s":"cb9","c":"cyan","p":"rise","x":134.6,"y":29},{"s":"cb9","c":"cyan","p":"rise","x":143.5,"y":100},{"s":"cb9","c":"cyan","p":"rise","x":146.6,"y":135},{"s":"cb9","c":"cyan","p":"rise","x":150,"y":154},
{"s":"cb9","c":"cyan","p":"sparse","x":150,"y":154},{"s":"cb9","c":"cyan","p":"sparse","x":166.7,"y":170},{"s":"cb9","c":"cyan","p":"sparse","x":198.8,"y":180},

{"s":"z3r","c":"red","p":"sparse","x":204,"y":3},{"s":"z3r","c":"red","p":"sparse","x":212,"y":2},{"s":"z3r","c":"red","p":"sparse","x":222,"y":1},
{"s":"z3y","c":"yellow","p":"sparse","x":206,"y":1},{"s":"z3y","c":"yellow","p":"sparse","x":215,"y":2},{"s":"z3y","c":"yellow","p":"sparse","x":223,"y":0},
{"s":"z3g","c":"green","p":"sparse","x":203,"y":0},{"s":"z3g","c":"green","p":"sparse","x":214,"y":1},{"s":"z3g","c":"green","p":"sparse","x":222,"y":2},

{"s":"r3b","c":"red","p":"sparse","x":225,"y":5},{"s":"r3b","c":"red","p":"sparse","x":240,"y":25},{"s":"r3b","c":"red","p":"sparse","x":255,"y":22},{"s":"r3b","c":"red","p":"sparse","x":270,"y":28},{"s":"r3b","c":"red","p":"sparse","x":285,"y":20},
{"s":"r3c","c":"red","p":"sparse","x":232,"y":15},{"s":"r3c","c":"red","p":"sparse","x":250,"y":12},{"s":"r3c","c":"red","p":"sparse","x":265,"y":15},{"s":"r3c","c":"red","p":"sparse","x":280,"y":12},{"s":"r3c","c":"red","p":"sparse","x":292,"y":18},
{"s":"r3a","c":"red","p":"rise","x":221.8,"y":0},{"s":"r3a","c":"red","p":"rise","x":224,"y":12},{"s":"r3a","c":"red","p":"rise","x":227,"y":30},{"s":"r3a","c":"red","p":"rise","x":231,"y":42},
{"s":"r3a","c":"red","p":"sparse","x":231,"y":42},{"s":"r3a","c":"red","p":"sparse","x":245,"y":45},{"s":"r3a","c":"red","p":"sparse","x":260,"y":40},{"s":"r3a","c":"red","p":"sparse","x":280,"y":38},{"s":"r3a","c":"red","p":"sparse","x":290.6,"y":34},

{"s":"G3d","c":"green","p":"rise","x":225.5,"y":0},{"s":"G3d","c":"green","p":"rise","x":231,"y":30},{"s":"G3d","c":"green","p":"rise","x":236,"y":45},{"s":"G3d","c":"green","p":"rise","x":240,"y":50},
{"s":"G3d","c":"green","p":"sparse","x":240,"y":50},{"s":"G3d","c":"green","p":"sparse","x":260,"y":52},{"s":"G3d","c":"green","p":"sparse","x":298,"y":55},
{"s":"Y3d","c":"yellow","p":"rise","x":226,"y":0},{"s":"Y3d","c":"yellow","p":"rise","x":231.5,"y":32},{"s":"Y3d","c":"yellow","p":"rise","x":236.5,"y":50},{"s":"Y3d","c":"yellow","p":"rise","x":242,"y":57},
{"s":"Y3d","c":"yellow","p":"sparse","x":242,"y":57},{"s":"Y3d","c":"yellow","p":"sparse","x":270,"y":60},{"s":"Y3d","c":"yellow","p":"sparse","x":298,"y":64},
{"s":"G3c","c":"green","p":"rise","x":224.8,"y":0},{"s":"G3c","c":"green","p":"rise","x":230,"y":35},{"s":"G3c","c":"green","p":"rise","x":234,"y":55},{"s":"G3c","c":"green","p":"rise","x":238,"y":62},
{"s":"G3c","c":"green","p":"sparse","x":238,"y":62},{"s":"G3c","c":"green","p":"sparse","x":260,"y":60},{"s":"G3c","c":"green","p":"sparse","x":280,"y":58},{"s":"G3c","c":"green","p":"sparse","x":298,"y":62},
{"s":"Y3c","c":"yellow","p":"rise","x":225.5,"y":0},{"s":"Y3c","c":"yellow","p":"rise","x":231,"y":38},{"s":"Y3c","c":"yellow","p":"rise","x":236,"y":60},{"s":"Y3c","c":"yellow","p":"rise","x":241,"y":70},
{"s":"Y3c","c":"yellow","p":"sparse","x":241,"y":70},{"s":"Y3c","c":"yellow","p":"sparse","x":260,"y":74},{"s":"Y3c","c":"yellow","p":"sparse","x":298,"y":80},
{"s":"C3a","c":"cyan","p":"rise","x":224,"y":0},{"s":"C3a","c":"cyan","p":"rise","x":229.5,"y":40},{"s":"C3a","c":"cyan","p":"rise","x":234,"y":70},{"s":"C3a","c":"cyan","p":"rise","x":238,"y":83},
{"s":"C3a","c":"cyan","p":"sparse","x":238,"y":83},{"s":"C3a","c":"cyan","p":"sparse","x":250,"y":88},{"s":"C3a","c":"cyan","p":"sparse","x":270,"y":92},{"s":"C3a","c":"cyan","p":"sparse","x":296,"y":95},
{"s":"Y3b","c":"yellow","p":"rise","x":225,"y":0},{"s":"Y3b","c":"yellow","p":"rise","x":230,"y":42},{"s":"Y3b","c":"yellow","p":"rise","x":234.5,"y":70},{"s":"Y3b","c":"yellow","p":"rise","x":239.5,"y":85},{"s":"Y3b","c":"yellow","p":"rise","x":245,"y":92},
{"s":"Y3b","c":"yellow","p":"sparse","x":245,"y":92},{"s":"Y3b","c":"yellow","p":"sparse","x":265,"y":96},{"s":"Y3b","c":"yellow","p":"sparse","x":298,"y":100},
{"s":"G3b","c":"green","p":"rise","x":224,"y":0},{"s":"G3b","c":"green","p":"rise","x":229,"y":40},{"s":"G3b","c":"green","p":"rise","x":233,"y":70},{"s":"G3b","c":"green","p":"rise","x":236.6,"y":88},{"s":"G3b","c":"green","p":"rise","x":240,"y":95},
{"s":"G3b","c":"green","p":"sparse","x":240,"y":95},{"s":"G3b","c":"green","p":"sparse","x":250,"y":98},{"s":"G3b","c":"green","p":"sparse","x":270,"y":100},{"s":"G3b","c":"green","p":"sparse","x":297,"y":103},
{"s":"Y3a","c":"yellow","p":"rise","x":224.5,"y":0},{"s":"Y3a","c":"yellow","p":"rise","x":229.5,"y":45},{"s":"Y3a","c":"yellow","p":"rise","x":234,"y":80},{"s":"Y3a","c":"yellow","p":"rise","x":238.5,"y":100},{"s":"Y3a","c":"yellow","p":"rise","x":243,"y":108},
{"s":"Y3a","c":"yellow","p":"sparse","x":243,"y":108},{"s":"Y3a","c":"yellow","p":"sparse","x":255,"y":114},{"s":"Y3a","c":"yellow","p":"sparse","x":275,"y":118},{"s":"Y3a","c":"yellow","p":"sparse","x":298,"y":122},
{"s":"G3a","c":"green","p":"rise","x":223.3,"y":0},{"s":"G3a","c":"green","p":"rise","x":227.7,"y":45},{"s":"G3a","c":"green","p":"rise","x":231.6,"y":78},{"s":"G3a","c":"green","p":"rise","x":234.5,"y":105},{"s":"G3a","c":"green","p":"rise","x":237.5,"y":118},{"s":"G3a","c":"green","p":"rise","x":240.1,"y":122},
{"s":"G3a","c":"green","p":"sparse","x":240.1,"y":122},{"s":"G3a","c":"green","p":"sparse","x":248.4,"y":127},{"s":"G3a","c":"green","p":"sparse","x":258.1,"y":131},{"s":"G3a","c":"green","p":"sparse","x":272.9,"y":131},{"s":"G3a","c":"green","p":"sparse","x":283.8,"y":134},{"s":"G3a","c":"green","p":"sparse","x":294.8,"y":135},

{"s":"R3s1","c":"red","p":"rise","x":290.6,"y":34},{"s":"R3s1","c":"red","p":"rise","x":293,"y":55},{"s":"R3s1","c":"red","p":"rise","x":295.5,"y":90},{"s":"R3s1","c":"red","p":"rise","x":297.5,"y":130},{"s":"R3s1","c":"red","p":"rise","x":299.4,"y":175},
{"s":"R3s2","c":"red","p":"rise","x":291.5,"y":25},{"s":"R3s2","c":"red","p":"rise","x":294,"y":45},{"s":"R3s2","c":"red","p":"rise","x":296.5,"y":80},{"s":"R3s2","c":"red","p":"rise","x":298.5,"y":115},{"s":"R3s2","c":"red","p":"rise","x":299.4,"y":140}
],
"yTicks": [{"v":200},{"v":400},{"v":600},{"v":800},{"v":1000}]
},
"layer": [
{
"data": {"name": "curves"},
"mark": {"type": "line", "strokeWidth": 2, "clip": true},
"encoding": {
"x": {"field": "x", "type": "quantitative", "scale": {"domain": [0, 300], "nice": false, "zero": false},
"axis": {"values": [50, 150, 250], "labelExpr": "datum.value == 50 ? '1st' : datum.value == 150 ? '2nd' : '3rd'", "title": null}},
"y": {"field": "y", "type": "quantitative", "scale": {"domain": [0, 1200], "nice": false},
"axis": {"values": [0, 200, 400, 600, 800, 1000, 1200], "format": "d", "title": null}},
"color": {"field": "c", "type": "nominal", "scale": {"domain": ["red", "yellow", "green", "cyan", "blue"], "range": ["#ff0000", "#eeee00", "#00c000", "#00eeee", "#0080ff"]}, "legend": null},
"detail": {"field": "s", "type": "nominal"},
"strokeDash": {"field": "p", "type": "nominal", "scale": {"domain": ["rise", "flat", "sparse"], "range": [[1, 0], [2, 3], [2, 5]]}, "legend": null}
}
},
{
"data": {"values": [{}]},
"mark": {"type": "rule", "color": "#000", "strokeWidth": 2.5},
"encoding": {
"x": {"datum": -23.3, "type": "quantitative"},
"x2": {"datum": 330},
"y": {"datum": 1244, "type": "quantitative"}
}
},
{
"data": {"values": [{}]},
"mark": {"type": "rule", "color": "#000", "strokeWidth": 2.5},
"encoding": {
"x": {"datum": -23.3, "type": "quantitative"},
"y": {"datum": 1244, "type": "quantitative"},
"y2": {"datum": -300}
}
},
{
"data": {"values": [{}]},
"mark": {"type": "rule", "color": "#000", "strokeWidth": 2},
"encoding": {
"x": {"datum": 100, "type": "quantitative"},
"y": {"datum": 0, "type": "quantitative"},
"y2": {"datum": 1200}
}
},
{
"data": {"values": [{}]},
"mark": {"type": "rule", "color": "#000", "strokeWidth": 2},
"encoding": {
"x": {"datum": 199.7, "type": "quantitative"},
"y": {"datum": 0, "type": "quantitative"},
"y2": {"datum": 1200}
}
},
{
"data": {"name": "yTicks"},
"mark": {"type": "rule", "color": "#000", "strokeWidth": 2},
"encoding": {
"x": {"datum": 97.3, "type": "quantitative"},
"x2": {"datum": 100},
"y": {"field": "v", "type": "quantitative"}
}
},
{
"data": {"name": "yTicks"},
"mark": {"type": "rule", "color": "#000", "strokeWidth": 2},
"encoding": {
"x": {"datum": 0, "type": "quantitative"},
"x2": {"datum": 2.7},
"y": {"field": "v", "type": "quantitative"}
}
},
{
"data": {"values": [{}]},
"mark": {"type": "text", "text": "0", "font": "DejaVu Sans Mono", "fontWeight": "bold", "fontSize": 23, "color": "#000", "align": "center", "baseline": "middle", "dy": 2},
"encoding": {
"x": {"datum": 93.1, "type": "quantitative"},
"y": {"datum": 0, "type": "quantitative"}
}
},
{
"data": {"values": [{}]},
"mark": {"type": "text", "text": "0", "font": "DejaVu Sans Mono", "fontWeight": "bold", "fontSize": 23, "color": "#000", "align": "center", "baseline": "middle", "dy": 2},
"encoding": {
"x": {"datum": 192.6, "type": "quantitative"},
"y": {"datum": 0, "type": "quantitative"}
}
},
{
"data": {"values": [{}]},
"mark": {"type": "rect", "fill": "#fff", "stroke": "#000", "strokeWidth": 2},
"encoding": {
"x": {"datum": 103.8, "type": "quantitative"},
"x2": {"datum": 300.9},
"y": {"datum": 1218, "type": "quantitative"},
"y2": {"datum": 963}
}
},
{
"data": {"values": [{}]},
"mark": {"type": "text", "text": ["1st", "2nd", "3rd"], "lineHeight": 43.5, "font": "Liberation Serif", "fontWeight": "bold", "fontSize": 41, "color": "#000", "align": "left", "baseline": "alphabetic"},
"encoding": {
"x": {"datum": 115.6, "type": "quantitative"},
"y": {"datum": 1138.4, "type": "quantitative"}
}
},
{
"data": {"values": [{}]},
"mark": {"type": "text", "text": ["2006/06/16 ~ 2006/07/18", "2007/09/25 ~ 2007/11/02", "2007/12/19 ~ 2008/01/04"], "lineHeight": 43.5, "font": "Liberation Serif", "fontWeight": "bold", "fontSize": 41, "color": "#000", "align": "left", "baseline": "alphabetic"},
"encoding": {
"x": {"datum": 166.4, "type": "quantitative"},
"y": {"datum": 1138.4, "type": "quantitative"}
}
}
]
}
